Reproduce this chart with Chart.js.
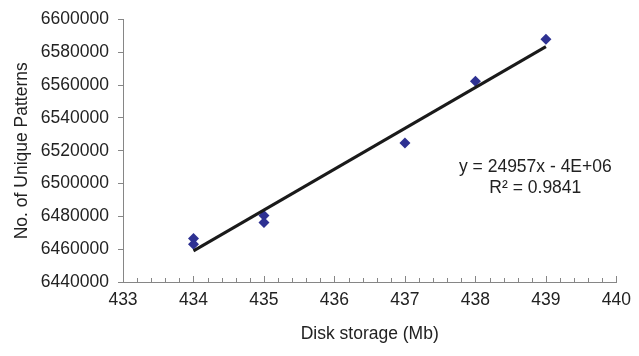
<!DOCTYPE html>
<html>
<head>
<meta charset="utf-8">
<script src="https://cdn.jsdelivr.net/npm/chart.js@4.4.1/dist/chart.umd.min.js"></script>
<style>
  html, body { margin: 0; padding: 0; background: #fff; }
  #wrap { width: 639px; height: 356px; }
</style>
</head>
<body>
<div id="wrap"><canvas id="storagechart" width="639" height="356"></canvas></div>
<script>
// values
const diskStorage = [434, 434, 435, 435, 437, 438, 439];
const uniquePatterns = [6466500, 6463000, 6480500, 6476200, 6524700, 6562300, 6588000];
const yTicks = { min: 6440000, max: 6600000, step: 20000 };
const xTicks = { min: 433, max: 440, step: 0.2 };
const equationText = ['y = 24957x - 4E+06', 'R\u00B2 = 0.9841'];

const axisGrey = '#868686';
const textColor = '#222222';
const fontFamily = 'Arial, "Liberation Sans", sans-serif';
const fontSize = 17.5;

// least squares trend line from the points
function trendLine(xs, ys) {
  const n = xs.length;
  const mx = xs.reduce((a, b) => a + b, 0) / n;
  const my = ys.reduce((a, b) => a + b, 0) / n;
  let sxy = 0, sxx = 0;
  for (let i = 0; i < n; i++) {
    sxy += (xs[i] - mx) * (ys[i] - my);
    sxx += (xs[i] - mx) * (xs[i] - mx);
  }
  const slope = sxy / sxx;
  const icpt = my - slope * mx;
  const x0 = Math.min(...xs), x1 = Math.max(...xs);
  return [{ x: x0, y: icpt + slope * x0 }, { x: x1, y: icpt + slope * x1 }];
}

const points = diskStorage.map((x, i) => ({ x: x, y: uniquePatterns[i] }));

// x ticks point up into the plot, like the original
const insideTicks = {
  id: 'insideTicks',
  afterDraw(chart) {
    const xs = chart.scales.x;
    const ctx = chart.ctx;
    const base = chart.chartArea.bottom;
    ctx.save();
    ctx.strokeStyle = axisGrey;
    ctx.lineWidth = 1;
    xs.ticks.forEach(t => {
      const major = Math.abs(t.value - Math.round(t.value)) < 1e-6;
      const px = Math.round(xs.getPixelForValue(t.value)) + 0.5;
      ctx.beginPath();
      ctx.moveTo(px, base);
      ctx.lineTo(px, base - (major ? 6 : 4));
      ctx.stroke();
    });
    ctx.restore();
  }
};

const equationLabel = {
  id: 'equationLabel',
  afterDraw(chart) {
    const ctx = chart.ctx;
    const px = chart.scales.x.getPixelForValue(438.85);
    const py = chart.scales.y.getPixelForValue(6510200);
    ctx.save();
    ctx.fillStyle = textColor;
    ctx.font = fontSize + 'px ' + fontFamily;
    ctx.textAlign = 'center';
    ctx.textBaseline = 'middle';
    ctx.fillText(equationText[0], px, py);
    ctx.fillText(equationText[1], px, py + 21);
    ctx.restore();
  }
};

const ctx = document.getElementById('storagechart').getContext('2d');
const storageChart = new Chart(ctx, {
  type: 'scatter',
  data: {
    datasets: [{
      label: 'Trend',
      type: 'line',
      data: trendLine(diskStorage, uniquePatterns),
      borderColor: '#1a1a1a',
      borderWidth: 3,
      pointRadius: 0,
      fill: false,
      order: 0
    }, {
      label: 'Unique patterns',
      data: points,
      pointStyle: 'rectRot',
      pointRadius: 5.5,
      backgroundColor: '#2E3192',
      borderColor: '#2E3192',
      borderWidth: 0,
      order: 1
    }]
  },
  options: {
    responsive: false,
    animation: false,
    layout: { padding: { left: 0, top: 18, right: 17, bottom: 0 } },
    plugins: {
      legend: { display: false },
      tooltip: { enabled: false }
    },
    scales: {
      x: {
        type: 'linear',
        min: xTicks.min,
        max: xTicks.max,
        afterFit(scale) { scale.height = 74; },
        grid: { display: false, drawTicks: false },
        border: { display: true, color: axisGrey, width: 1 },
        ticks: {
          stepSize: xTicks.step,
          autoSkip: false,
          maxRotation: 0,
          padding: 8,
          color: textColor,
          font: { family: fontFamily, size: fontSize },
          callback: v => Math.abs(v - Math.round(v)) < 1e-6 ? String(Math.round(v)) : ''
        },
        title: {
          display: true,
          text: 'Disk storage (Mb)',
          color: textColor,
          font: { family: fontFamily, size: fontSize },
          padding: { top: 0, bottom: 11 }
        }
      },
      y: {
        min: yTicks.min,
        max: yTicks.max,
        afterFit(scale) { scale.width = 123; },
        grid: { drawOnChartArea: false, drawTicks: true, tickLength: 5, color: axisGrey },
        border: { display: true, color: axisGrey, width: 1 },
        ticks: {
          stepSize: yTicks.step,
          padding: 9,
          color: textColor,
          font: { family: fontFamily, size: fontSize },
          callback: v => String(v)
        },
        title: {
          display: true,
          text: 'No. of Unique Patterns',
          color: textColor,
          font: { family: fontFamily, size: fontSize },
          padding: { top: 12, bottom: 0 }
        }
      }
    }
  },
  plugins: [insideTicks, equationLabel]
});
</script>
</body>
</html>
